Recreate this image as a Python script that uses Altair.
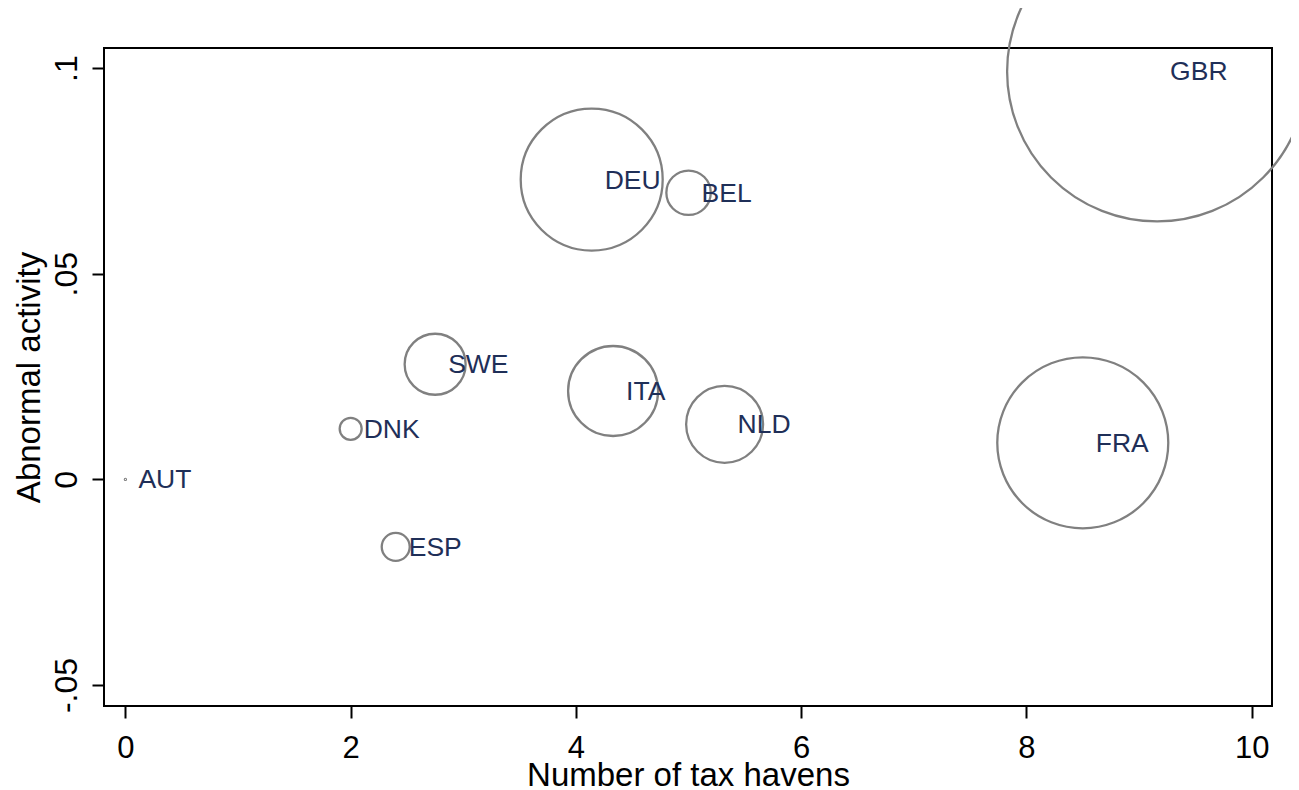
import altair as alt
import pandas as pd

# Values
countries = ["AUT", "DNK", "ESP", "SWE", "ITA", "NLD", "DEU", "BEL", "FRA", "GBR"]
havens = [0.0, 2.0, 2.4, 2.75, 4.33, 5.32, 4.14, 5.0, 8.5, 9.16]
abnormal = [0.0, 0.0123, -0.0164, 0.0280, 0.0215, 0.0134, 0.0729, 0.0697, 0.0089, 0.0992]
weight = [0.003, 1.21, 1.96, 9.3, 20.25, 14.8, 50.4, 4.93, 73.1, 225.0]

x_ticks = [0, 2, 4, 6, 8, 10]
y_ticks = [-0.05, 0, 0.05, 0.1]
y_tick_labels = ["-.05", "0", ".05", ".1"]

df = pd.DataFrame({"country": countries, "havens": havens,
                   "abnormal": abnormal, "weight": weight})

FONT = "Liberation Sans"

y_label_expr = "[" + ",".join("'%s'" % s for s in y_tick_labels) + "][indexof([" + \
    ",".join(repr(v) for v in y_ticks) + "], datum.value)]"

xenc = alt.X("havens:Q",
             scale=alt.Scale(domain=[-0.19, 10.18], nice=False, zero=False),
             axis=alt.Axis(values=x_ticks, format="d", title="Number of tax havens",
                           grid=False, domain=False, tickSize=12, tickWidth=2,
                           tickColor="black", labelFontSize=31, labelColor="black",
                           labelFont=FONT, labelBaseline="alphabetic", labelPadding=39,
                           labelFlush=False, labelOverlap=False,
                           titleFontSize=33, titleFont=FONT, titleFontWeight="normal",
                           titleColor="black", titleBaseline="alphabetic", titleY=79))
yenc = alt.Y("abnormal:Q",
             scale=alt.Scale(domain=[-0.0551, 0.1049], nice=False, zero=False),
             axis=alt.Axis(values=y_ticks, labelExpr=y_label_expr, title="Abnormal activity",
                           grid=False, domain=False, tickSize=12, tickWidth=2,
                           tickColor="black", labelFontSize=32, labelColor="black",
                           labelFont=FONT, labelAngle=270, labelAlign="center",
                           labelBaseline="alphabetic", labelPadding=16,
                           labelFlush=False, labelOverlap=False,
                           titleFontSize=33, titleFont=FONT, titleFontWeight="normal",
                           titleColor="black", titleAngle=270, titleAlign="center",
                           titleBaseline="alphabetic", titleX=-65, titleY=329))

# Vega symbol size is the area of the bounding square: (2r)^2
bubbles = alt.Chart(df).mark_point(shape="circle", filled=False, color="#808080",
                                   strokeWidth=2.3, opacity=1).encode(
    x=xenc, y=yenc,
    size=alt.Size("weight:Q", scale=alt.Scale(type="linear", domain=[0, 225],
                                              range=[0, 90000]), legend=None),
)

labels = alt.Chart(df).mark_text(align="left", baseline="middle", dx=13, dy=1,
                                 font=FONT, fontSize=26.5, color="#1f2f58").encode(
    x=alt.X("havens:Q"), y=alt.Y("abnormal:Q"), text="country:N")

chart = alt.layer(bubbles, labels).properties(
    width=1168, height=658,
    padding={"left": 96, "top": 40, "right": 19, "bottom": 84},
    autosize=alt.AutoSizeParams(type="none"),
    background="white",
).configure_view(stroke="black", strokeWidth=2)

chart.save("out.html", embed_options={"renderer": "svg", "actions": False})
